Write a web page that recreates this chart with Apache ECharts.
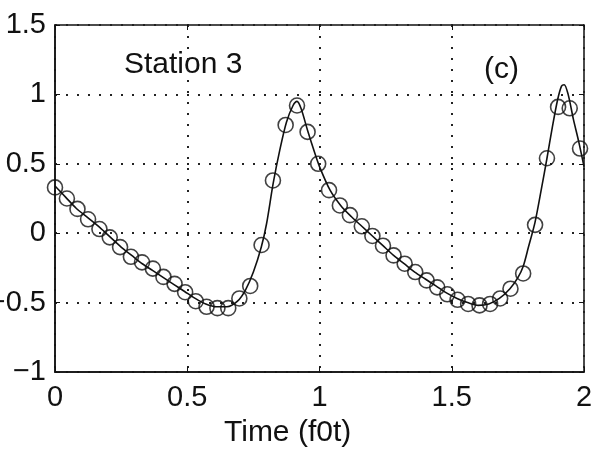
<!DOCTYPE html>
<html>
<head>
<meta charset="utf-8">
<script src="https://cdn.jsdelivr.net/npm/echarts@6/dist/echarts.min.js"></script>
<style>
  html, body { margin: 0; padding: 0; background: #fff; }
  #chart { width: 594px; height: 459px; }
</style>
</head>
<body>
<div id="chart"></div>
<script>
// measured points (circles)
var obsT = [0, 0.045, 0.085, 0.125, 0.168, 0.207, 0.246, 0.287, 0.329, 0.37, 0.41, 0.452,
    0.492, 0.532, 0.573, 0.614, 0.655, 0.697, 0.738, 0.781, 0.824, 0.872, 0.915, 0.955,
    0.995, 1.036, 1.077, 1.115, 1.16, 1.2, 1.24, 1.28, 1.322, 1.362, 1.405, 1.445,
    1.483, 1.522, 1.562, 1.605, 1.645, 1.683, 1.722, 1.77, 1.815, 1.86, 1.902, 1.946, 1.985];
var obsY = [0.33, 0.25, 0.175, 0.10, 0.03, -0.03, -0.10, -0.17, -0.21, -0.255, -0.315, -0.365,
    -0.425, -0.49, -0.53, -0.54, -0.54, -0.47, -0.38, -0.085, 0.38, 0.78, 0.92, 0.73,
    0.50, 0.31, 0.20, 0.13, 0.05, -0.02, -0.09, -0.16, -0.22, -0.28, -0.34, -0.39,
    -0.44, -0.48, -0.51, -0.52, -0.51, -0.47, -0.40, -0.29, 0.06, 0.54, 0.91, 0.90, 0.61];

// model curve (solid line)
var curveT = [0, 0.04, 0.08, 0.125, 0.17, 0.21, 0.25, 0.29, 0.33, 0.37, 0.41, 0.45, 0.49, 0.53,
    0.57, 0.61, 0.65, 0.69, 0.72, 0.75, 0.78, 0.80, 0.825, 0.85, 0.875, 0.9, 0.915, 0.93,
    0.955, 0.98, 1.0, 1.04, 1.08, 1.12, 1.16, 1.2, 1.24, 1.28, 1.32, 1.36, 1.4, 1.44, 1.48,
    1.52, 1.56, 1.6, 1.64, 1.68, 1.72, 1.75, 1.77, 1.79, 1.815, 1.84, 1.86, 1.88, 1.9,
    1.915, 1.925, 1.94, 1.96, 1.98, 2.0];
var curveY = [0.34, 0.26, 0.18, 0.11, 0.04, -0.03, -0.10, -0.16, -0.22, -0.27, -0.32, -0.37, -0.42, -0.47,
    -0.51, -0.53, -0.53, -0.49, -0.41, -0.28, -0.10, 0.07, 0.36, 0.60, 0.80, 0.92, 0.95, 0.90,
    0.74, 0.59, 0.48, 0.31, 0.20, 0.12, 0.05, -0.02, -0.09, -0.16, -0.22, -0.28, -0.33, -0.38, -0.43,
    -0.47, -0.50, -0.52, -0.51, -0.47, -0.40, -0.32, -0.24, -0.10, 0.08, 0.33, 0.54, 0.76, 0.96,
    1.06, 1.07, 1.00, 0.82, 0.66, 0.48];

var xTicks = [0, 0.5, 1, 1.5, 2];
var yTicks = [-1, -0.5, 0, 0.5, 1, 1.5];

var chart = echarts.init(document.getElementById('chart'));

var font = 'Liberation Sans, Arial, sans-serif';
var gridDots = { color: '#222', width: 2, type: [2, 9] };

function fmt(v) {
    return String(v).replace('-', '\u2212');
}

var option = {
    animation: false,
    backgroundColor: '#fff',
    grid: {
        left: 55, right: 10, top: 25, bottom: 87,
        containLabel: false, outerBoundsMode: 'none',
        show: true, borderColor: '#111', borderWidth: 1.5
    },
    xAxis: [{
        type: 'value', min: xTicks[0], max: xTicks[xTicks.length - 1], interval: 0.5,
        axisLine: { show: true, onZero: false, lineStyle: { color: '#111', width: 1.5 } },
        axisTick: { show: true, inside: true, length: 5, lineStyle: { color: '#111' } },
        axisLabel: { color: '#111', fontFamily: font, fontSize: 29, margin: 11, formatter: fmt },
        splitLine: { show: true, lineStyle: gridDots }
    }, {
        type: 'value', position: 'top', min: 0, max: 2, interval: 0.5,
        axisLine: { show: false, onZero: false },
        axisTick: { show: true, inside: true, length: 5, lineStyle: { color: '#111' } },
        axisLabel: { show: false }, splitLine: { show: false }
    }],
    yAxis: [{
        type: 'value', min: yTicks[0], max: yTicks[yTicks.length - 1], interval: 0.5,
        axisLine: { show: true, onZero: false, lineStyle: { color: '#111', width: 1.5 } },
        axisTick: { show: true, inside: true, length: 5, lineStyle: { color: '#111' } },
        axisLabel: { color: '#111', fontFamily: font, fontSize: 29, margin: 9, formatter: fmt },
        splitLine: { show: true, lineStyle: gridDots }
    }, {
        type: 'value', position: 'right', min: -1, max: 1.5, interval: 0.5,
        axisLine: { show: false, onZero: false },
        axisTick: { show: true, inside: true, length: 5, lineStyle: { color: '#111' } },
        axisLabel: { show: false }, splitLine: { show: false }
    }],
    graphic: [
        { type: 'text', left: 124, top: 50, style: { text: 'Station 3', font: '30px ' + font, fill: '#111' } },
        { type: 'text', left: 484, top: 55, style: { text: '(c)', font: '30px ' + font, fill: '#111' } },
        { type: 'text', left: 224, top: 418, style: { text: 'Time (f0t)', font: '30px ' + font, fill: '#111' } }
    ],
    series: [{
        type: 'line',
        data: curveT.map(function (t, i) { return [t, curveY[i]]; }),
        showSymbol: false,
        smooth: 0.3,
        lineStyle: { color: '#111', width: 1.6 },
        z: 2
    }, {
        type: 'scatter',
        data: obsT.map(function (t, i) { return [t, obsY[i]]; }),
        symbol: 'circle',
        symbolSize: 15,
        itemStyle: { color: 'rgba(0,0,0,0)', borderColor: '#111', borderWidth: 1.6 },
        z: 3
    }]
};

chart.setOption(option);
</script>
</body>
</html>
